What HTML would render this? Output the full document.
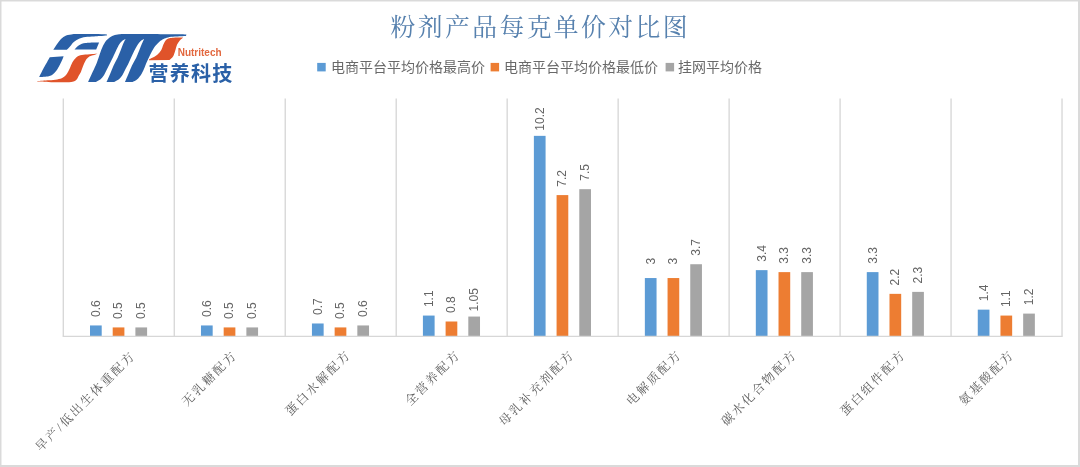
<!DOCTYPE html>
<html><head><meta charset="utf-8"><title>chart</title>
<style>html,body{margin:0;padding:0;background:#fff;}body{width:1080px;height:467px;overflow:hidden;font-family:"Liberation Sans",sans-serif;}svg{display:block;}</style>
</head><body>
<svg width="1080" height="467" viewBox="0 0 1080 467">
<defs><filter id="bl" filterUnits="userSpaceOnUse" x="0" y="0" width="1080" height="467"><feGaussianBlur stdDeviation="0.4"/></filter></defs>
<rect x="0" y="0" width="1080" height="467" fill="#dadada"/><rect x="1.5" y="1.5" width="1076.5" height="463.5" fill="#fff"/>
<g filter="url(#bl)">
<line x1="63.30" y1="98.5" x2="63.30" y2="336.40" stroke="#d7d7d7" stroke-width="1.35"/>
<line x1="174.27" y1="98.5" x2="174.27" y2="336.40" stroke="#d7d7d7" stroke-width="1.35"/>
<line x1="285.24" y1="98.5" x2="285.24" y2="336.40" stroke="#d7d7d7" stroke-width="1.35"/>
<line x1="396.21" y1="98.5" x2="396.21" y2="336.40" stroke="#d7d7d7" stroke-width="1.35"/>
<line x1="507.18" y1="98.5" x2="507.18" y2="336.40" stroke="#d7d7d7" stroke-width="1.35"/>
<line x1="618.15" y1="98.5" x2="618.15" y2="336.40" stroke="#d7d7d7" stroke-width="1.35"/>
<line x1="729.12" y1="98.5" x2="729.12" y2="336.40" stroke="#d7d7d7" stroke-width="1.35"/>
<line x1="840.09" y1="98.5" x2="840.09" y2="336.40" stroke="#d7d7d7" stroke-width="1.35"/>
<line x1="951.06" y1="98.5" x2="951.06" y2="336.40" stroke="#d7d7d7" stroke-width="1.35"/>
<line x1="1062.03" y1="98.5" x2="1062.03" y2="336.40" stroke="#d7d7d7" stroke-width="1.35"/>
<rect x="90.00" y="325.45" width="11.70" height="10.95" fill="#5b9bd5"/>
<rect x="112.70" y="327.43" width="11.70" height="8.97" fill="#ed7d31"/>
<rect x="135.40" y="327.43" width="11.70" height="8.97" fill="#a5a5a5"/>
<rect x="200.97" y="325.45" width="11.70" height="10.95" fill="#5b9bd5"/>
<rect x="223.67" y="327.43" width="11.70" height="8.97" fill="#ed7d31"/>
<rect x="246.37" y="327.43" width="11.70" height="8.97" fill="#a5a5a5"/>
<rect x="311.94" y="323.48" width="11.70" height="12.92" fill="#5b9bd5"/>
<rect x="334.64" y="327.43" width="11.70" height="8.97" fill="#ed7d31"/>
<rect x="357.34" y="325.45" width="11.70" height="10.95" fill="#a5a5a5"/>
<rect x="422.91" y="315.57" width="11.70" height="20.82" fill="#5b9bd5"/>
<rect x="445.61" y="321.50" width="11.70" height="14.90" fill="#ed7d31"/>
<rect x="468.31" y="316.56" width="11.70" height="19.84" fill="#a5a5a5"/>
<rect x="533.88" y="135.85" width="11.70" height="200.55" fill="#5b9bd5"/>
<rect x="556.58" y="195.10" width="11.70" height="141.30" fill="#ed7d31"/>
<rect x="579.28" y="189.18" width="11.70" height="147.22" fill="#a5a5a5"/>
<rect x="644.85" y="278.05" width="11.70" height="58.35" fill="#5b9bd5"/>
<rect x="667.55" y="278.05" width="11.70" height="58.35" fill="#ed7d31"/>
<rect x="690.25" y="264.23" width="11.70" height="72.17" fill="#a5a5a5"/>
<rect x="755.82" y="270.15" width="11.70" height="66.25" fill="#5b9bd5"/>
<rect x="778.52" y="272.12" width="11.70" height="64.27" fill="#ed7d31"/>
<rect x="801.22" y="272.12" width="11.70" height="64.27" fill="#a5a5a5"/>
<rect x="866.79" y="272.12" width="11.70" height="64.27" fill="#5b9bd5"/>
<rect x="889.49" y="293.85" width="11.70" height="42.55" fill="#ed7d31"/>
<rect x="912.19" y="291.88" width="11.70" height="44.52" fill="#a5a5a5"/>
<rect x="977.76" y="309.65" width="11.70" height="26.75" fill="#5b9bd5"/>
<rect x="1000.46" y="315.57" width="11.70" height="20.82" fill="#ed7d31"/>
<rect x="1023.16" y="313.60" width="11.70" height="22.80" fill="#a5a5a5"/>
<line x1="62.70" y1="336.40" x2="1062.63" y2="336.40" stroke="#d7d7d7" stroke-width="1.35"/>
<g fill="#656565" font-family="'Liberation Sans', sans-serif" font-size="12" text-anchor="middle">
<text transform="translate(99.75,308.65) rotate(-90)">0.6</text>
<text transform="translate(122.45,310.62) rotate(-90)">0.5</text>
<text transform="translate(145.15,310.62) rotate(-90)">0.5</text>
<text transform="translate(210.72,308.65) rotate(-90)">0.6</text>
<text transform="translate(233.42,310.62) rotate(-90)">0.5</text>
<text transform="translate(256.12,310.62) rotate(-90)">0.5</text>
<text transform="translate(321.69,306.68) rotate(-90)">0.7</text>
<text transform="translate(344.39,310.62) rotate(-90)">0.5</text>
<text transform="translate(367.09,308.65) rotate(-90)">0.6</text>
<text transform="translate(432.66,298.77) rotate(-90)">1.1</text>
<text transform="translate(455.36,304.70) rotate(-90)">0.8</text>
<text transform="translate(478.06,299.76) rotate(-90)">1.05</text>
<text transform="translate(543.63,119.05) rotate(-90)">10.2</text>
<text transform="translate(566.33,178.30) rotate(-90)">7.2</text>
<text transform="translate(589.03,172.38) rotate(-90)">7.5</text>
<text transform="translate(654.60,261.25) rotate(-90)">3</text>
<text transform="translate(677.30,261.25) rotate(-90)">3</text>
<text transform="translate(700.00,247.43) rotate(-90)">3.7</text>
<text transform="translate(765.57,253.35) rotate(-90)">3.4</text>
<text transform="translate(788.27,255.32) rotate(-90)">3.3</text>
<text transform="translate(810.97,255.32) rotate(-90)">3.3</text>
<text transform="translate(876.54,255.32) rotate(-90)">3.3</text>
<text transform="translate(899.24,277.05) rotate(-90)">2.2</text>
<text transform="translate(921.94,275.07) rotate(-90)">2.3</text>
<text transform="translate(987.51,292.85) rotate(-90)">1.4</text>
<text transform="translate(1010.21,298.77) rotate(-90)">1.1</text>
<text transform="translate(1032.91,296.80) rotate(-90)">1.2</text>
</g>
<text x="390.40" y="36.0" fill="#5781ae" font-family="'Liberation Serif', 'Noto Serif CJK SC', serif" font-size="24.8" letter-spacing="2.45">粉剂产品每克单价对比图</text>
<rect x="317.20" y="62.9" width="8.5" height="8.5" fill="#5b9bd5"/>
<text x="331.00" y="72.3" fill="#696969" font-family="'Liberation Sans', 'Noto Sans CJK SC', sans-serif" font-size="14">电商平台平均价格最高价</text>
<rect x="490.60" y="62.9" width="8.5" height="8.5" fill="#ed7d31"/>
<text x="504.00" y="72.3" fill="#696969" font-family="'Liberation Sans', 'Noto Sans CJK SC', sans-serif" font-size="14">电商平台平均价格最低价</text>
<rect x="665.60" y="62.9" width="8.5" height="8.5" fill="#a5a5a5"/>
<text x="677.90" y="72.3" fill="#696969" font-family="'Liberation Sans', 'Noto Sans CJK SC', sans-serif" font-size="14">挂网平均价格</text>
<g fill="#606060" font-family="'Liberation Serif', 'Noto Serif CJK SC', serif" font-size="12.3" letter-spacing="2.15">
<text transform="translate(39.77,452.63) rotate(-45)" x="1.07" y="0">早产/低出生体重配方</text>
<text transform="translate(186.32,407.48) rotate(-45)" x="1.07" y="0">无乳糖配方</text>
<text transform="translate(289.80,417.10) rotate(-45)" x="1.07" y="0">蛋白水解配方</text>
<text transform="translate(409.62,406.88) rotate(-45)" x="1.07" y="0">全营养配方</text>
<text transform="translate(503.29,427.32) rotate(-45)" x="1.07" y="0">母乳补充剂配方</text>
<text transform="translate(630.82,406.88) rotate(-45)" x="1.07" y="0">电解质配方</text>
<text transform="translate(725.69,427.32) rotate(-45)" x="1.07" y="0">碳水化合物配方</text>
<text transform="translate(844.70,417.10) rotate(-45)" x="1.07" y="0">蛋白组件配方</text>
<text transform="translate(963.42,406.78) rotate(-45)" x="1.07" y="0">氨基酸配方</text>
</g>
<g fill="#2a61a7"><path d="M53.30,49.80C53.93,48.85 55.82,45.92 57.10,44.10C58.38,42.28 59.50,40.35 61.00,38.90C62.50,37.45 64.18,36.18 66.10,35.40C68.02,34.62 71.43,34.40 72.50,34.20C76.08,34.18 88.25,34.05 94.00,34.10C99.75,34.15 104.83,34.43 107.00,34.50L106.80,35.50C105.67,35.60 102.13,35.95 100.00,36.10C97.87,36.25 96.43,36.25 94.00,36.40C91.57,36.55 87.90,36.60 85.40,37.00C82.90,37.40 80.93,37.95 79.00,38.80C77.07,39.65 75.30,40.80 73.80,42.10C72.30,43.40 71.17,45.32 70.00,46.60C68.83,47.88 67.33,49.27 66.80,49.80L53.30,49.80Z"/><path d="M74.50,49.60C75.25,48.87 77.18,46.28 79.00,45.20C80.82,44.12 82.90,43.55 85.40,43.10C87.90,42.65 92.57,42.60 94.00,42.50L99.10,42.50L96.20,49.50L74.50,49.60Z"/><path d="M49.80,57.20L63.60,56.20C63.28,57.02 62.45,59.43 61.70,61.10C60.95,62.77 60.07,64.50 59.10,66.20C58.13,67.90 56.97,69.90 55.90,71.30C54.83,72.70 53.88,73.78 52.70,74.60C51.52,75.42 51.05,75.78 48.80,76.20C46.55,76.62 40.80,76.95 39.20,77.10C39.95,75.60 41.93,71.42 43.70,68.10C45.47,64.78 48.78,59.02 49.80,57.20Z"/><path d="M88.10,81.90C88.70,80.57 90.40,76.72 91.70,73.90C93.00,71.08 94.77,67.65 95.90,65.00C97.03,62.35 97.60,60.53 98.50,58.00C99.40,55.47 100.18,52.45 101.30,49.80C102.42,47.15 103.80,44.13 105.20,42.10C106.60,40.07 108.10,38.77 109.70,37.60C111.30,36.43 113.08,35.67 114.80,35.10C116.52,34.53 119.13,34.35 120.00,34.20C124.00,34.18 132.93,34.05 144.00,34.10C155.07,34.15 179.33,34.43 186.40,34.50L186.00,36.00C184.17,36.10 178.00,36.37 175.00,36.60C172.00,36.83 169.92,37.00 168.00,37.40C166.08,37.80 164.93,38.27 163.50,39.00C162.07,39.73 160.98,40.35 159.40,41.80C157.82,43.25 155.53,45.55 154.00,47.70C152.47,49.85 151.40,52.32 150.20,54.70C149.00,57.08 147.77,59.80 146.80,62.00C145.83,64.20 145.28,65.92 144.40,67.90C143.52,69.88 142.68,72.02 141.50,73.90C140.32,75.78 138.78,77.87 137.30,79.20C135.82,80.53 133.38,81.45 132.60,81.90L124.90,82.00C125.48,80.65 127.22,76.63 128.40,73.90C129.58,71.17 130.70,68.28 132.00,65.60C133.30,62.92 134.97,60.38 136.20,57.80C137.43,55.22 138.43,52.47 139.40,50.10C140.37,47.73 141.20,45.43 142.00,43.60C142.80,41.77 143.83,39.85 144.20,39.10C143.62,39.43 141.82,40.13 140.70,41.10C139.58,42.07 138.57,43.30 137.50,44.90C136.43,46.50 135.38,48.55 134.30,50.70C133.22,52.85 132.02,55.58 131.00,57.80C129.98,60.02 129.12,62.12 128.20,64.00C127.28,65.88 126.45,67.27 125.50,69.10C124.55,70.93 123.58,73.32 122.50,75.00C121.42,76.68 120.38,78.05 119.00,79.20C117.62,80.35 115.00,81.45 114.20,81.90L106.50,82.00C107.10,80.65 108.92,76.63 110.10,73.90C111.28,71.17 112.35,68.28 113.60,65.60C114.85,62.92 116.40,60.38 117.60,57.80C118.80,55.22 119.85,52.47 120.80,50.10C121.75,47.73 122.50,45.43 123.30,43.60C124.10,41.77 125.22,39.85 125.60,39.10C125.02,39.43 123.23,40.13 122.10,41.10C120.97,42.07 119.77,43.40 118.80,44.90C117.83,46.40 117.25,48.07 116.30,50.10C115.35,52.13 114.13,54.95 113.10,57.10C112.07,59.25 111.10,61.00 110.10,63.00C109.10,65.00 108.10,67.10 107.10,69.10C106.10,71.10 105.18,73.32 104.10,75.00C103.02,76.68 101.97,78.05 100.60,79.20C99.23,80.35 96.68,81.45 95.90,81.90L88.10,81.90Z"/></g><g fill="#e0522a"><path d="M37.30,81.00C39.22,80.87 45.48,80.47 48.80,80.20C52.12,79.93 54.83,79.87 57.20,79.40C59.57,78.93 61.40,78.32 63.00,77.40C64.60,76.48 65.70,75.33 66.80,73.90C67.90,72.47 68.68,70.70 69.60,68.80C70.52,66.90 71.38,64.18 72.30,62.50C73.22,60.82 73.98,59.82 75.10,58.70C76.22,57.58 77.28,56.50 79.00,55.80C80.72,55.10 82.90,54.82 85.40,54.50C87.90,54.18 91.98,54.03 94.00,53.90C96.02,53.77 96.92,53.73 97.50,53.70C96.75,53.97 94.45,54.77 93.00,55.30C91.55,55.83 89.93,56.18 88.80,56.90C87.67,57.62 87.05,58.33 86.20,59.60C85.35,60.87 84.58,62.43 83.70,64.50C82.82,66.57 81.68,70.20 80.90,72.00C80.12,73.80 79.75,74.00 79.00,75.30C78.25,76.60 77.68,78.68 76.40,79.80C75.12,80.92 75.15,81.58 71.30,82.00C67.45,82.42 58.97,82.37 53.30,82.30C47.63,82.23 39.97,81.72 37.30,81.60L37.30,81.00Z"/><path d="M183.30,37.60C181.75,37.62 176.32,37.60 174.00,37.70C171.68,37.80 170.77,37.78 169.40,38.20C168.03,38.62 166.80,39.13 165.80,40.20C164.80,41.27 164.15,42.97 163.40,44.60C162.65,46.23 162.32,48.32 161.30,50.00C160.28,51.68 158.90,53.35 157.30,54.70C155.70,56.05 153.08,57.28 151.70,58.10C150.32,58.92 149.45,59.35 149.00,59.60L149.00,60.20L169.40,60.10C170.03,59.45 172.23,57.75 173.20,56.20C174.17,54.65 174.55,52.73 175.20,50.80C175.85,48.87 176.33,46.33 177.10,44.60C177.87,42.87 178.77,41.57 179.80,40.40C180.83,39.23 182.72,38.07 183.30,37.60Z"/></g>
<text x="148.6" y="80.6" fill="#2a61a7" font-family="'Liberation Sans', 'Noto Sans CJK SC', sans-serif" font-size="20" font-weight="bold" letter-spacing="1.2">营养科技</text>
<text x="177.7" y="55.9" fill="#e2683f" font-family="'Liberation Sans', sans-serif" font-size="10" font-weight="bold">Nutritech</text>
</g>
</svg>
</body></html>
